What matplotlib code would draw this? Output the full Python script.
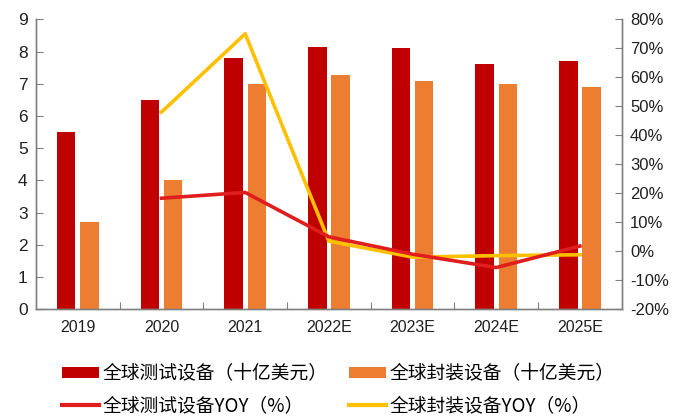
import matplotlib
matplotlib.use("Agg")
import matplotlib.pyplot as plt
import numpy as np
from matplotlib.patches import Patch
from matplotlib.lines import Line2D

categories = ["2019", "2020", "2021", "2022E", "2023E", "2024E", "2025E"]
test_equip = [5.5, 6.5, 7.8, 8.15, 8.1, 7.6, 7.7]
pack_equip = [2.7, 4.0, 7.0, 7.28, 7.1, 7.0, 6.9]
test_yoy = [None, 18.3, 20.3, 5.0, -1.0, -5.6, 1.8]
pack_yoy = [None, 48.0, 75.0, 3.5, -2.0, -1.5, -1.2]

left_ticks = list(range(0, 10))
right_ticks = list(range(-20, 90, 10))

plt.rcParams['font.family'] = ['Liberation Sans', 'DejaVu Sans']

fig = plt.figure(figsize=(6.78, 4.16), dpi=100)
ax = fig.add_axes([0.0531, 0.2565, 0.917 - 0.0531, 0.9536 - 0.2565])
ax2 = ax.twinx()

x = np.arange(len(categories))
w = 0.22
off = 0.138
c_red = "#C00000"
c_orange = "#ED7D31"
c_line_red = "#E01E1E"
c_yellow = "#FFC000"

ax.bar(x - off, test_equip, width=w, color=c_red, zorder=2)
ax.bar(x + off, pack_equip, width=w, color=c_orange, zorder=2)

xs_t = [i for i, v in enumerate(test_yoy) if v is not None]
ys_t = [v for v in test_yoy if v is not None]
xs_p = [i for i, v in enumerate(pack_yoy) if v is not None]
ys_p = [v for v in pack_yoy if v is not None]
ax2.plot(xs_p, ys_p, color=c_yellow, lw=2.6, zorder=3)
ax2.plot(xs_t, ys_t, color=c_line_red, lw=2.6, zorder=4)

ax.set_xlim(-0.5, len(categories) - 0.5)
ax.set_ylim(0, 9)
ax2.set_ylim(-20, 80)
ax.set_yticks(left_ticks)
ax2.set_yticks(right_ticks)
ax2.set_yticklabels([f"{t}%" for t in right_ticks])

ax.set_xticks(np.arange(len(categories) - 1) + 0.5)
ax.set_xticklabels([])
ax.set_xticks(x, minor=True)
ax.set_xticklabels(categories, minor=True)
ax.tick_params(axis='x', which='major', direction='in', length=5, color='#808080')
ax.tick_params(axis='x', which='minor', length=0, pad=8, labelsize=11.5, labelcolor='#202020')
ax.tick_params(axis='y', direction='in', length=5, color='#808080', labelsize=12.5, labelcolor='#202020', pad=6)
ax2.tick_params(axis='y', direction='in', length=5, color='#808080', labelsize=12, labelcolor='#202020', pad=6)

for a in (ax, ax2):
    a.spines['top'].set_visible(False)
    for s in ('left', 'right', 'bottom'):
        a.spines[s].set_color('#808080')
        a.spines[s].set_linewidth(1.0)

handles = [
    Patch(facecolor=c_red, edgecolor='none'),
    Line2D([0], [0], color=c_line_red, lw=3),
    Patch(facecolor=c_orange, edgecolor='none'),
    Line2D([0], [0], color=c_yellow, lw=3),
]
labels = ["全球测试设备（十亿美元）", "全球测试设备YOY（%）",
          "全球封装设备（十亿美元）", "全球封装设备YOY（%）"]
fig.legend(handles, labels, ncol=2, loc='upper left',
           bbox_to_anchor=(0.08, 0.145), frameon=False,
           prop={'family': ['Noto Sans CJK SC', 'DejaVu Sans'], 'size': 13.5},
           handlelength=2.0, handleheight=0.55, handletextpad=0.2,
           columnspacing=1.1, labelspacing=0.6, borderaxespad=0)

fig.savefig("out.png", dpi=100)
